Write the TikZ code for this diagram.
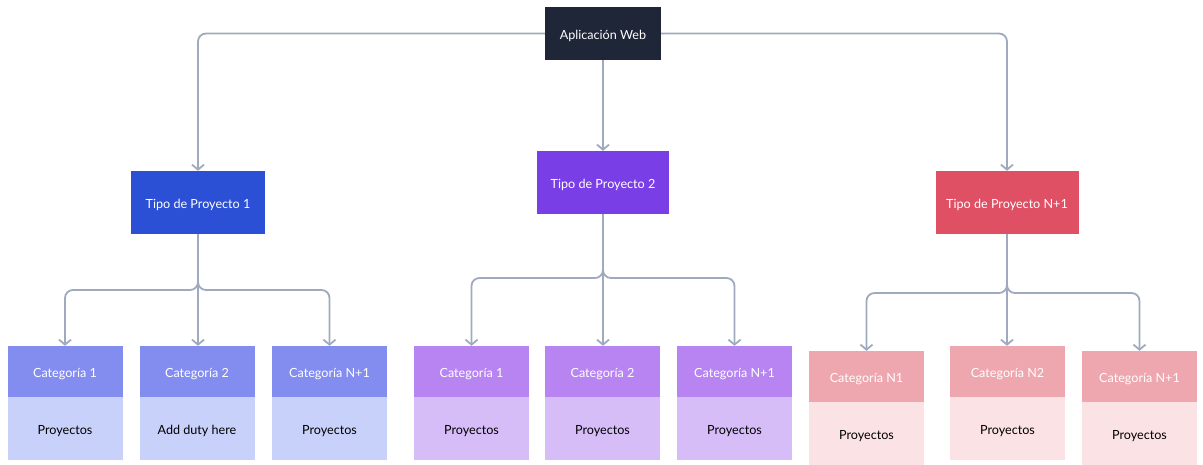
\documentclass[tikz,border=0pt]{standalone}
\usepackage{fontspec}
\setmainfont{Lato}
\usetikzlibrary{arrows.meta}
\definecolor{darkc}{HTML}{1F2637}
\definecolor{bluec}{HTML}{2B4FD5}
\definecolor{purplec}{HTML}{7A3EE6}
\definecolor{redc}{HTML}{E05064}
\definecolor{blueH}{HTML}{838CEF}
\definecolor{blueB}{HTML}{C8D1FA}
\definecolor{purpH}{HTML}{B784F2}
\definecolor{purpB}{HTML}{D6BDF8}
\definecolor{pinkH}{HTML}{EEA7AE}
\definecolor{pinkB}{HTML}{FBE2E5}
\definecolor{linec}{HTML}{A0AABF}
\begin{document}
\begin{tikzpicture}[x=1pt,y=-1pt,
  box/.style={draw=none, inner sep=0pt, font=\fontsize{12.6}{14}\selectfont, align=center, text height=12pt, text depth=0pt},
  top/.style={box, text=white, minimum height=63pt},
  hdr/.style={box, text=white, minimum width=115pt, minimum height=51pt},
  bdy/.style={box, text=black, minimum width=115pt, minimum height=63pt},
  conn/.style={draw=linec, line width=1.8pt, rounded corners=8pt, -{Straight Barb[length=5pt,width=12pt]}}
]
\useasboundingbox (0,0) rectangle (1203,464);
% root
\node[box, fill=darkc, text=white, minimum width=116pt, minimum height=53pt] (app) at (603,33.5) {Aplicación Web};
% project types
\node[top, fill=bluec, minimum width=134pt] (tp1) at (198,202.5) {Tipo de Proyecto 1};
\node[top, fill=purplec, minimum width=132pt] (tp2) at (603,182.5) {Tipo de Proyecto 2};
\node[top, fill=redc, minimum width=143pt] (tp3) at (1007,202.5) {Tipo de Proyecto N+1};
% left group
\node[hdr, fill=blueH] (c11h) at (65,371.5) {Categoría 1};
\node[bdy, fill=blueB] (c11b) at (65,428.5) {Proyectos};
\node[hdr, fill=blueH] (c12h) at (197,371.5) {Categoría 2};
\node[bdy, fill=blueB] (c12b) at (197,428.5) {Add duty here};
\node[hdr, fill=blueH] (c13h) at (329.5,371.5) {Categoría N+1};
\node[bdy, fill=blueB] (c13b) at (329.5,428.5) {Proyectos};
% middle group
\node[hdr, fill=purpH] (c21h) at (471.5,371.5) {Categoría 1};
\node[bdy, fill=purpB] (c21b) at (471.5,428.5) {Proyectos};
\node[hdr, fill=purpH] (c22h) at (602.5,371.5) {Categoría 2};
\node[bdy, fill=purpB] (c22b) at (602.5,428.5) {Proyectos};
\node[hdr, fill=purpH] (c23h) at (734.5,371.5) {Categoría N+1};
\node[bdy, fill=purpB] (c23b) at (734.5,428.5) {Proyectos};
% right group
\node[hdr, fill=pinkH] (c31h) at (866.5,376.5) {Categoría N1};
\node[bdy, fill=pinkB] (c31b) at (866.5,433.5) {Proyectos};
\node[hdr, fill=pinkH] (c32h) at (1007.5,371.5) {Categoría N2};
\node[bdy, fill=pinkB] (c32b) at (1007.5,428.5) {Proyectos};
\node[hdr, fill=pinkH] (c33h) at (1139.5,376.5) {Categoría N+1};
\node[bdy, fill=pinkB] (c33b) at (1139.5,433.5) {Proyectos};
% junctions
\coordinate (j1) at (198,290);
\coordinate (j2) at (603,278);
\coordinate (j3) at (1007,293);
% connectors
\draw[conn] (app.west) -| (tp1.north);
\draw[conn] (app.east) -| (tp3.north);
\draw[conn] (app.south) -- (tp2.north);
\draw[conn] (tp1.south) -- (j1) -| (c11h.north);
\draw[conn] (tp1.south) -- (j1) -| (c13h.north);
\draw[conn] (tp1.south) -- (tp1.south |- c12h.north);
\draw[conn] (tp2.south) -- (j2) -| (c21h.north);
\draw[conn] (tp2.south) -- (j2) -| (c23h.north);
\draw[conn] (tp2.south) -- (tp2.south |- c22h.north);
\draw[conn] (tp3.south) -- (j3) -| (c31h.north);
\draw[conn] (tp3.south) -- (j3) -| (c33h.north);
\draw[conn] (tp3.south) -- (tp3.south |- c32h.north);
\end{tikzpicture}
\end{document}
